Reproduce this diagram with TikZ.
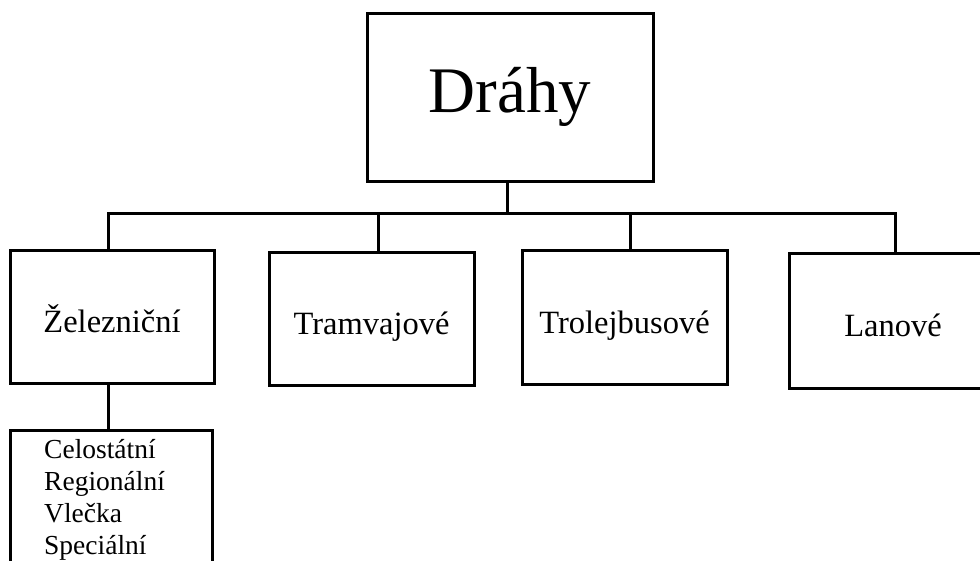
\documentclass[tikz,border=0pt]{standalone}
\usepackage{fontspec}
\setmainfont{Liberation Serif}
\begin{document}
\begin{tikzpicture}[x=1pt,y=-1pt,
  box/.style={draw=black, line width=3pt, rectangle, inner sep=0pt, fill=white},
  midtext/.style={font=\fontsize{32.5}{39}\selectfont, text height=32pt, text depth=0pt},
  link/.style={draw=black, line width=3pt, line cap=rect}]
\useasboundingbox[fill=white] (0,0) rectangle (980,560);
% nodes
\node[box, minimum width=286pt, minimum height=168pt, font=\fontsize{65}{78}\selectfont] (top) at (510,97) {Dráhy};
\node[box, midtext, minimum width=204pt, minimum height=133pt] (zel) at (112,316.5) {Železniční};
\node[box, midtext, minimum width=205pt, minimum height=133pt] (tram) at (371.5,318.5) {Tramvajové};
\node[box, midtext, minimum width=205pt, minimum height=134pt] (trol) at (624.5,317) {Trolejbusové};
\node[box, midtext, minimum width=208pt, minimum height=135pt] (lan) at (893,320.5) {Lanové};
\node[box, minimum width=202pt, minimum height=180pt] (spec) at (111,520) {};
\node[anchor=north west, inner sep=0pt, align=left, font=\fontsize{27.5}{32}\selectfont] (spectext) at (44,439) {Celostátní\\Regionální\\Vlečka\\Speciální};
% connector coordinates
\coordinate (jz) at (108,213);
\coordinate (jt) at (378,213);
\coordinate (jr) at (630,213);
\coordinate (jl) at (895,213);
\coordinate (jtop) at (507,213);
% connectors
\draw[link] (jz) -- (jl);
\draw[link] (jtop) -- (jtop |- top.south);
\draw[link] (jz) -- (jz |- zel.north);
\draw[link] (jt) -- (jt |- tram.north);
\draw[link] (jr) -- (jr |- trol.north);
\draw[link] (jl) -- (jl |- lan.north);
\draw[link] (zel.south -| jz) -- (jz |- spec.north);
\end{tikzpicture}
\end{document}
